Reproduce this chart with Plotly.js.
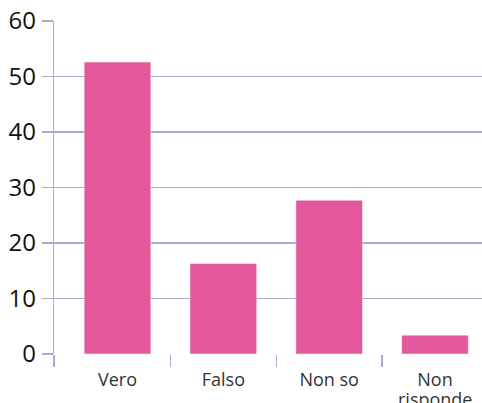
<!DOCTYPE html>
<html>
<head>
<meta charset="utf-8">
<script src="https://cdn.plot.ly/plotly-3.0.1.min.js"></script>
<style>html,body{margin:0;padding:0;background:#fff;}#chart{width:482px;height:403px;}</style>
</head>
<body>
<div id="chart"></div>
<script>
var categories = ["Vero", "Falso", "Non so", "Non risponde"];
var values = [52.6, 16.3, 27.7, 3.4];
var yTicks = [0, 10, 20, 30, 40, 50, 60];
var boundaryTicks = [-0.6, 0.5, 1.5, 2.5];

var gridColor = "#AEA9CE";
var barColor = "#E4589E";
var labelFont = {family: "Open Sans", size: 18, color: "#333333"};

// the long label wraps onto a second line with tighter spacing than Plotly's default
var firstLines = categories.map(function (c) { return c === "Non risponde" ? "Non" : c; });
var wrapIndex = categories.indexOf("Non risponde");

var trace = {
  type: "bar",
  x: categories,
  y: values,
  width: 0.63,
  marker: {color: barColor, line: {color: "rgba(255,255,255,0.45)", width: 1}},
  hoverinfo: "none"
};

// empty helper trace so the overlaying boundary-tick axis is drawn
var helper = {type: "scatter", x: [], y: [], xaxis: "x2", yaxis: "y", hoverinfo: "none", showlegend: false};

var layout = {
  width: 482,
  height: 403,
  margin: {l: 54, r: 0, t: 21, b: 49, pad: 0},
  paper_bgcolor: "#ffffff",
  plot_bgcolor: "#ffffff",
  showlegend: false,
  xaxis: {
    type: "category",
    range: [-0.6, 3.444],
    tickmode: "array",
    tickvals: categories,
    ticktext: firstLines,
    showgrid: false,
    zeroline: false,
    showline: false,
    ticks: "",
    ticklabelstandoff: 13,
    tickfont: labelFont,
    fixedrange: true
  },
  xaxis2: {
    type: "linear",
    overlaying: "x",
    side: "bottom",
    range: [-0.6, 3.444],
    tickmode: "array",
    tickvals: boundaryTicks,
    showticklabels: false,
    ticks: "outside",
    ticklen: 12,
    tickwidth: 1.2,
    tickcolor: gridColor,
    showgrid: false,
    zeroline: false,
    showline: false,
    fixedrange: true
  },
  yaxis: {
    range: [0, 60],
    tickmode: "array",
    tickvals: yTicks,
    ticktext: yTicks.map(String),
    showgrid: true,
    gridcolor: gridColor,
    gridwidth: 1.2,
    zeroline: false,
    showline: true,
    linecolor: gridColor,
    linewidth: 1.2,
    ticks: "outside",
    ticklen: 11,
    tickwidth: 1.2,
    tickcolor: gridColor,
    ticklabelstandoff: 1,
    tickfont: {family: "Open Sans", size: 24, color: "#111111"},
    fixedrange: true
  },
  annotations: [{
    xref: "x",
    yref: "paper",
    x: wrapIndex,
    y: 0,
    yanchor: "top",
    yshift: -31,
    text: "risponde",
    showarrow: false,
    font: labelFont
  }]
};

Plotly.newPlot("chart", [trace, helper], layout, {displayModeBar: false, staticPlot: true});
</script>
</body>
</html>
